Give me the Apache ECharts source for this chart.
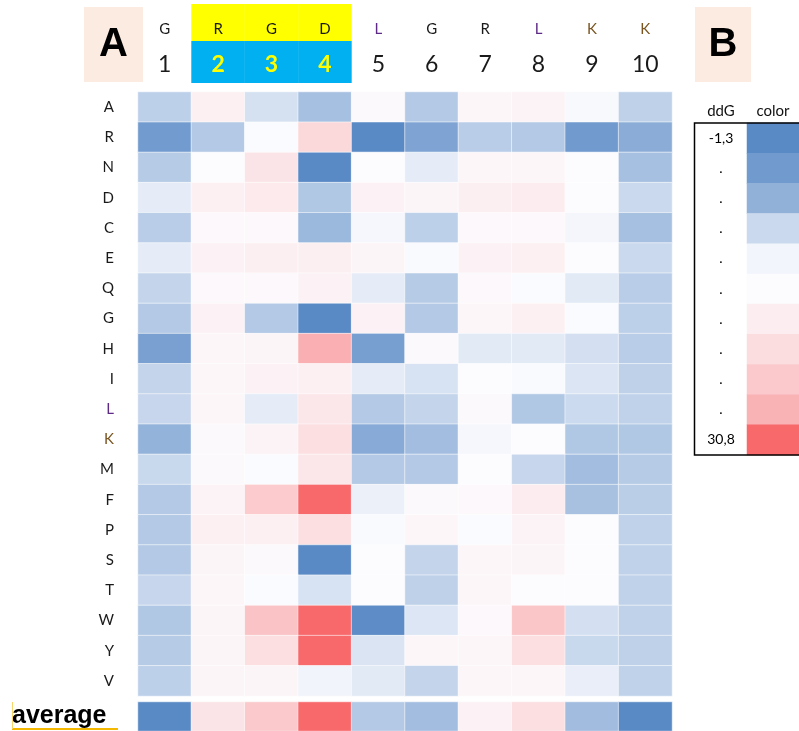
<!DOCTYPE html>
<html>
<head>
<meta charset="utf-8">
<script src="https://cdn.jsdelivr.net/npm/echarts@6/dist/echarts.min.js"></script>
<style>
  html, body { margin: 0; padding: 0; background: #fff; }
  #chart { width: 799px; height: 731px; }
</style>
</head>
<body>
<div id="chart"></div>
<script>
// peptide positions and residues (header)
var residues = ['G', 'R', 'G', 'D', 'L', 'G', 'R', 'L', 'K', 'K'];
var positions = ['1', '2', '3', '4', '5', '6', '7', '8', '9', '10'];
var highlighted = [1, 2, 3]; // positions 2-4 (RGD)

// substituted amino acids (rows)
var aminoAcids = ['A', 'R', 'N', 'D', 'C', 'E', 'Q', 'G', 'H', 'I', 'L', 'K', 'M', 'F', 'P', 'S', 'T', 'W', 'Y', 'V'];

// position on the colour scale, -1 = -1,3 (blue) ... 0 = white ... 1 = 30,8 (red)
var scores = [
  [-0.39, 0.08, -0.24, -0.53, 0.02, -0.45, 0.04, 0.06, -0.03, -0.38], // A
  [-0.85, -0.45, -0.01, 0.24, -1.0, -0.77, -0.41, -0.45, -0.86, -0.70], // R
  [-0.43, 0.00, 0.16, -1.0, 0.00, -0.14, 0.04, 0.04, 0.00, -0.53], // N
  [-0.14, 0.08, 0.12, -0.46, 0.07, 0.05, 0.09, 0.11, 0.00, -0.31], // D
  [-0.41, 0.03, 0.03, -0.60, -0.04, -0.39, 0.03, 0.03, -0.05, -0.53], // C
  [-0.14, 0.07, 0.09, 0.09, 0.05, -0.02, 0.07, 0.08, 0.00, -0.31], // E
  [-0.35, 0.03, 0.03, 0.07, -0.14, -0.43, 0.03, -0.01, -0.16, -0.41], // Q
  [-0.45, 0.07, -0.45, -1.0, 0.07, -0.45, 0.04, 0.08, -0.01, -0.39], // G
  [-0.81, 0.04, 0.05, 0.52, -0.82, 0.02, -0.16, -0.16, -0.25, -0.41], // H
  [-0.35, 0.04, 0.07, 0.08, -0.14, -0.23, 0.01, -0.02, -0.20, -0.38], // I
  [-0.33, 0.04, -0.14, 0.15, -0.45, -0.35, 0.02, -0.46, -0.30, -0.37], // L
  [-0.64, 0.02, 0.06, 0.20, -0.72, -0.55, -0.04, 0.00, -0.46, -0.46], // K
  [-0.32, 0.02, -0.01, 0.15, -0.45, -0.45, 0.01, -0.33, -0.55, -0.43], // M
  [-0.45, 0.06, 0.33, 1.0, -0.10, 0.02, 0.03, 0.11, -0.52, -0.40], // F
  [-0.45, 0.08, 0.08, 0.20, -0.02, 0.04, -0.01, 0.06, 0.00, -0.37], // P
  [-0.45, 0.05, 0.02, -1.0, 0.00, -0.35, 0.04, 0.05, 0.00, -0.37], // S
  [-0.33, 0.04, -0.01, -0.23, 0.00, -0.38, 0.04, 0.01, 0.00, -0.37], // T
  [-0.46, 0.05, 0.38, 1.0, -0.98, -0.19, 0.03, 0.37, -0.25, -0.37], // W
  [-0.43, 0.05, 0.20, 1.0, -0.21, 0.04, 0.04, 0.20, -0.32, -0.38], // Y
  [-0.39, 0.05, 0.05, -0.07, -0.16, -0.35, 0.04, 0.04, -0.12, -0.37]  // V
];
var averageScores = [-1.0, 0.16, 0.35, 1.0, -0.45, -0.55, 0.07, 0.20, -0.56, -1.0];

// legend B
var legendLabels = ['-1,3', '.', '.', '.', '.', '.', '.', '.', '.', '.', '30,8'];
var legendScores = [-1.0, -0.86, -0.66, -0.31, -0.06, 0.0, 0.10, 0.21, 0.35, 0.50, 1.0];

var labelFont = 'Lato, "Open Sans", sans-serif';

var mainData = [];
scores.forEach(function (row, r) {
  row.forEach(function (v, c) { mainData.push([c, r, v]); });
});
var avgData = averageScores.map(function (v, c) { return [c, 0, v]; });
var legendData = legendScores.map(function (v, i) { return [0, i, v]; });

function letterColor(v) {
  if (v === 'L') return '#5d2a86';
  if (v === 'K') return '#7a5520';
  return '#1a1a1a';
}

function letterStyle(color, bg) {
  var s = { height: 23, lineHeight: 37, padding: [14, 0, 0, 0], fontSize: 15, fontFamily: labelFont, color: color };
  if (bg) { s.backgroundColor = bg; s.width = 53.6; s.align = 'center'; }
  return s;
}

var chart = echarts.init(document.getElementById('chart'));

var option = {
  backgroundColor: '#fff',
  animation: false,
  grid: [
    { left: 138, top: 92, width: 534, height: 604 },
    { left: 138, top: 702, width: 534, height: 30 },
    { left: 747, top: 123, width: 60, height: 332 }
  ],
  xAxis: [
    {
      gridIndex: 0, type: 'category', data: residues, position: 'top', offset: 42,
      axisLine: { show: false }, axisTick: { show: false },
      axisLabel: {
        interval: 0, margin: 9,
        formatter: function (v, i) {
          return highlighted.indexOf(i) >= 0 ? '{hl|' + v + '}' : '{n' + v + '|' + v + '}';
        },
        rich: {
          hl: letterStyle('#1a1a1a', '#FFFF00'),
          nG: letterStyle(letterColor('G')),
          nL: letterStyle(letterColor('L')),
          nK: letterStyle(letterColor('K')),
          nR: letterStyle(letterColor('R'))
        }
      }
    },
    {
      gridIndex: 0, type: 'category', data: positions, position: 'top', offset: 0,
      axisLine: { show: false }, axisTick: { show: false },
      axisLabel: {
        interval: 0, margin: 9,
        formatter: function (v, i) {
          return highlighted.indexOf(i) >= 0 ? '{hl|' + v + '}' : '{n|' + v + '}';
        },
        rich: {
          hl: { backgroundColor: '#00B0F0', width: 53.6, height: 36, lineHeight: 42, padding: [6, 0, 0, 0], align: 'center', fontSize: 23, fontWeight: 'bold', fontFamily: labelFont, color: '#FFFF00' },
          n: { height: 36, lineHeight: 42, padding: [6, 0, 0, 0], fontSize: 23, fontFamily: labelFont, color: '#1a1a1a' }
        }
      }
    },
    { gridIndex: 1, type: 'category', data: positions, show: false },
    { gridIndex: 2, type: 'category', data: ['color'], show: false }
  ],
  yAxis: [
    {
      gridIndex: 0, type: 'category', data: aminoAcids, inverse: true,
      axisLine: { show: false }, axisTick: { show: false },
      axisLabel: {
        interval: 0, margin: 24, fontSize: 15, fontFamily: labelFont,
        color: function (v) { return letterColor(v); }
      }
    },
    {
      gridIndex: 1, type: 'category', data: ['average'],
      axisLine: { show: false }, axisTick: { show: false },
      axisLabel: {
        margin: 126, align: 'left', fontSize: 25, fontWeight: 'bold',
        fontFamily: '"Liberation Sans", Arial, sans-serif', color: '#000'
      }
    },
    {
      gridIndex: 2, type: 'category', data: legendLabels, inverse: true,
      axisLine: { show: false }, axisTick: { show: false },
      axisLabel: {
        interval: 0, margin: 26, align: 'center', fontSize: 14,
        fontFamily: labelFont, color: '#000'
      }
    }
  ],
  visualMap: {
    show: false, type: 'continuous', min: -1, max: 1,
    seriesIndex: [0, 1, 2],
    inRange: { color: ['#5A8AC6', '#FCFCFF', '#F8696B'] }
  },
  series: [
    {
      name: 'ddG', type: 'heatmap', xAxisIndex: 1, yAxisIndex: 0, data: mainData,
      itemStyle: { borderColor: 'rgba(255,255,255,0.55)', borderWidth: 1 },
      emphasis: { disabled: true }
    },
    {
      name: 'average', type: 'heatmap', xAxisIndex: 2, yAxisIndex: 1, data: avgData,
      itemStyle: { borderColor: 'rgba(255,255,255,0.55)', borderWidth: 1 },
      emphasis: { disabled: true }
    },
    {
      name: 'legend', type: 'heatmap', xAxisIndex: 3, yAxisIndex: 2, data: legendData,
      emphasis: { disabled: true }
    }
  ],
  graphic: [
    { type: 'rect', left: 84, top: 7, shape: { width: 59, height: 75 }, style: { fill: '#FBEBE0' } },
    { type: 'text', x: 113.5, y: 45, style: { text: 'A', fontSize: 40, fontWeight: 'bold', fontFamily: '"Liberation Sans", Arial, sans-serif', fill: '#000', align: 'center', verticalAlign: 'middle' } },
    { type: 'rect', left: 695, top: 7, shape: { width: 56, height: 75 }, style: { fill: '#FBEBE0' } },
    { type: 'text', x: 723, y: 45, style: { text: 'B', fontSize: 40, fontWeight: 'bold', fontFamily: '"Liberation Sans", Arial, sans-serif', fill: '#000', align: 'center', verticalAlign: 'middle' } },
    { type: 'text', x: 721, y: 111, style: { text: 'ddG', fontSize: 15, fontFamily: labelFont, fill: '#111', align: 'center', verticalAlign: 'middle' } },
    { type: 'text', x: 773, y: 111, style: { text: 'color', fontSize: 15, fontFamily: labelFont, fill: '#111', align: 'center', verticalAlign: 'middle' } },
    { type: 'rect', z: 10, shape: { x: 694.5, y: 123, width: 120, height: 332 }, style: { fill: 'none', stroke: '#000', lineWidth: 1.5 } },
    { type: 'line', z: 10, shape: { x1: 12, y1: 729, x2: 118, y2: 729 }, style: { stroke: '#F5B800', lineWidth: 2 } },
    { type: 'line', z: 10, shape: { x1: 12.5, y1: 702, x2: 12.5, y2: 729 }, style: { stroke: '#F7D56A', lineWidth: 1 } }
  ]
};

chart.setOption(option);
</script>
</body>
</html>
